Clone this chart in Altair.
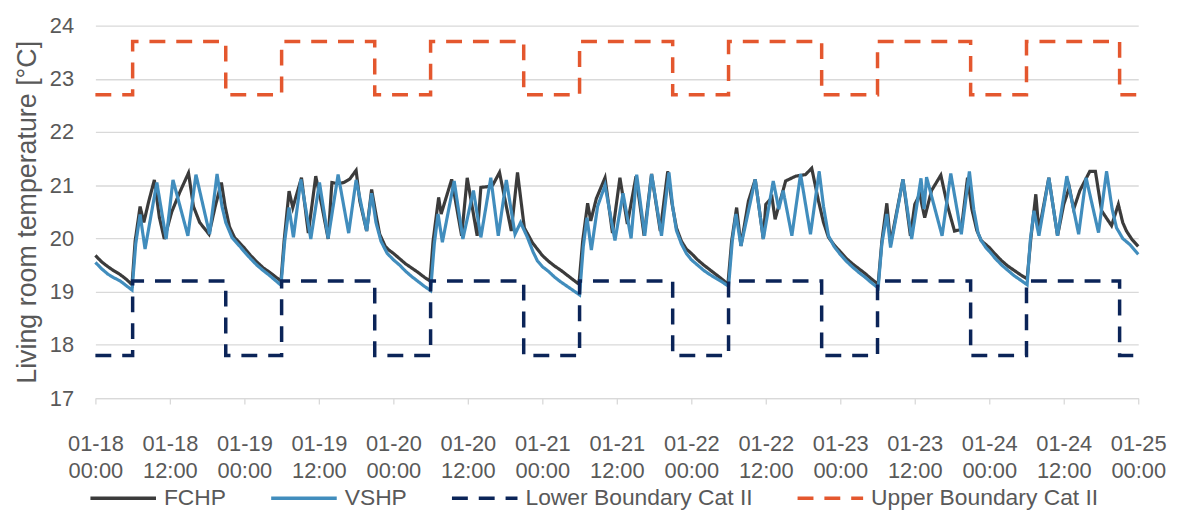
import json
import altair as alt
import pandas as pd

# ---------------- data (hours since 01-18 00:00) ----------------
FCHP_HOURS = [0, 1, 2, 3, 4, 5, 5.9, 6.4, 7.2, 7.8, 8.6, 9.5, 10.3, 11.1, 12.3, 13.6, 15.0, 15.8, 16.8, 18.3, 19.3, 20.3, 20.9, 21.6, 22.4, 23.2, 24.0,
              25, 26, 27, 28, 29, 29.9, 30.4, 31.2, 31.8, 33.2, 34.3, 35.5, 36.5, 37.5, 38.1, 39.0, 40.0, 41.0, 42.0, 42.6, 43.7, 44.5, 45.2, 45.8, 46.7, 47.3, 48.0,
              49, 50, 51, 52, 53, 53.9, 54.4, 55.3, 55.7, 57.4, 59.0, 59.9, 61.5, 62.1, 63.0, 64.0, 65.1, 67.0, 68.0, 69.1, 70.4, 71.2, 72.0,
              73, 74, 75, 76, 77, 77.9, 78.5, 79.3, 79.8, 80.7, 82.1, 83.3, 84.5, 85.7, 87.1, 88.4, 89.6, 91.0, 92.2, 92.9, 93.6, 94.4, 95.2, 96.0,
              97, 98, 99, 100, 101, 101.9, 102.5, 103.3, 104.0, 105.2, 106.3, 107.6, 108.0, 109.0, 109.5, 111.2, 112.8, 114.4, 115.4, 116.5, 117.3, 118.1, 119.0, 120.0,
              121, 122, 123, 124, 125, 126.1, 126.7, 127.5, 128.1, 130.1, 131.3, 132.0, 132.8, 133.6, 134.7, 136.2, 137.3, 138.4, 139.5, 140.5, 141.2, 142.0, 142.7, 143.5, 144.0,
              145, 146, 147, 148, 149, 150.1, 150.7, 151.5, 152.0, 153.6, 155.0, 156.0, 156.9, 157.6, 158.6, 160.2, 161.1, 162.1, 163.7, 164.8, 165.5, 166.1, 167.0, 168.0]
FCHP_TEMPS = [19.68, 19.56, 19.47, 19.39, 19.32, 19.23, 19.13, 19.95, 20.6, 20.3, 20.7, 21.1, 20.4, 19.99, 20.5, 20.87, 21.23, 20.6, 20.3, 20.08, 20.6, 21.05, 20.6, 20.22, 20.02, 19.92, 19.82,
              19.68, 19.56, 19.45, 19.37, 19.28, 19.2, 19.95, 20.89, 20.58, 21.14, 20.1, 21.17, 20.6, 19.99, 21.05, 21.03, 21.05, 21.12, 21.28, 20.7, 20.14, 20.92, 20.45, 20.08, 19.85, 19.78, 19.72,
              19.62, 19.52, 19.44, 19.36, 19.27, 19.2, 19.95, 20.77, 20.46, 21.11, 20.05, 21.14, 20.05, 20.96, 20.97, 21.0, 21.24, 20.14, 21.24, 20.2, 19.92, 19.8, 19.68,
              19.57, 19.48, 19.4, 19.31, 19.22, 19.14, 19.95, 20.66, 20.33, 20.75, 21.14, 20.1, 21.14, 20.27, 21.17, 20.05, 21.21, 20.14, 21.26, 20.65, 20.2, 19.95, 19.8, 19.72,
              19.6, 19.5, 19.41, 19.32, 19.23, 19.14, 19.95, 20.58, 19.86, 20.7, 21.11, 19.99, 20.64, 20.77, 20.36, 21.08, 21.17, 21.2, 21.32, 20.7, 20.3, 20.02, 19.88, 19.75,
              19.62, 19.52, 19.43, 19.34, 19.24, 19.14, 19.95, 20.66, 19.9, 21.11, 20.05, 20.64, 20.83, 20.39, 20.9, 21.19, 20.6, 20.14, 20.17, 21.14, 20.55, 20.15, 19.96, 19.88, 19.83,
              19.7, 19.58, 19.48, 19.4, 19.32, 19.24, 20.0, 20.83, 20.14, 21.14, 20.05, 20.64, 20.96, 20.55, 20.9, 21.26, 21.26, 20.52, 20.24, 20.64, 20.3, 20.14, 19.98, 19.85]

VSHP_HOURS = [0, 1, 2, 3, 4, 5, 5.9, 6.5, 7.2, 8.0, 9.9, 11.4, 12.5, 14.9, 16.2, 18.4, 19.6, 20.4, 21.0, 22.0, 23.2, 24.0,
              25, 26, 27, 28, 29, 29.9, 30.5, 31.2, 31.9, 33.1, 34.7, 36.1, 37.5, 39.1, 40.8, 42.0, 43.7, 44.5, 45.2, 46.0, 47.0, 48.0,
              49, 50, 51, 52, 53, 54.0, 54.6, 55.2, 55.9, 57.8, 59.2, 60.9, 62.1, 63.7, 64.9, 66.2, 67.6, 68.5, 69.6, 70.5, 71.2, 72.0,
              73, 74, 75, 76, 77, 78.0, 78.6, 79.2, 79.9, 80.9, 82.1, 83.7, 85.0, 86.3, 87.2, 88.5, 89.6, 91.2, 92.4, 93.0, 93.6, 94.4, 95.2, 96.0,
              97, 98, 99, 100, 101, 102.0, 102.6, 103.2, 104.0, 106.3, 107.6, 109.2, 110.1, 110.8, 112.2, 113.6, 115.2, 116.6, 117.3, 118.1, 119.0, 120.0,
              121, 122, 123, 124, 125, 126.1, 126.7, 127.5, 128.1, 130.1, 131.5, 133.0, 133.5, 133.9, 136.4, 137.8, 139.5, 140.8, 141.5, 142.2, 142.7, 143.5, 144.0,
              145, 146, 147, 148, 149, 150.1, 150.6, 151.2, 152.0, 153.6, 155.0, 156.5, 158.4, 159.6, 161.6, 162.9, 163.8, 164.5, 165.5, 166.7, 168.0]
VSHP_TEMPS = [19.55, 19.43, 19.33, 19.26, 19.2, 19.11, 19.03, 19.9, 20.45, 19.8, 21.05, 19.99, 21.1, 20.05, 21.2, 20.08, 21.21, 20.6, 20.3, 20.02, 19.86, 19.75,
              19.62, 19.5, 19.4, 19.31, 19.21, 19.12, 19.95, 20.58, 20.02, 21.11, 19.99, 21.05, 20.0, 21.2, 20.1, 21.1, 20.14, 20.85, 20.3, 19.95, 19.72, 19.6,
              19.5, 19.38, 19.28, 19.19, 19.1, 19.02, 19.9, 20.46, 19.93, 21.08, 19.99, 20.9, 20.02, 21.14, 20.05, 21.1, 20.08, 20.3, 20.02, 19.75, 19.58, 19.47,
              19.38, 19.27, 19.18, 19.1, 19.02, 18.94, 19.85, 20.39, 19.78, 20.6, 21.0, 19.96, 20.85, 20.0, 21.2, 20.05, 21.21, 20.05, 21.24, 20.6, 20.15, 19.9, 19.72, 19.6,
              19.5, 19.4, 19.32, 19.25, 19.18, 19.1, 19.95, 20.46, 19.86, 21.11, 19.99, 21.08, 20.55, 20.9, 20.05, 21.21, 20.08, 21.26, 20.6, 20.05, 19.85, 19.7,
              19.57, 19.46, 19.36, 19.27, 19.17, 19.07, 19.9, 20.46, 19.83, 21.11, 19.99, 21.13, 20.55, 21.15, 20.05, 21.22, 20.08, 21.26, 20.55, 20.1, 19.96, 19.82, 19.76,
              19.62, 19.5, 19.4, 19.3, 19.22, 19.13, 19.95, 20.52, 20.05, 21.14, 20.05, 21.17, 20.08, 21.14, 20.11, 21.26, 20.55, 20.2, 20.0, 19.88, 19.7]

BOUND_HOURS = [0, 6, 21, 30, 45, 54, 69, 78, 93, 102, 117, 126, 141, 150, 165, 168]
LOWER_BOUND = [17.8, 19.2, 17.8, 19.2, 17.8, 19.2, 17.8, 19.2, 17.8, 19.2, 17.8, 19.2, 17.8, 19.2, 17.8, 17.8]
UPPER_BOUND = [22.7, 23.7, 22.7, 23.7, 22.7, 23.7, 22.7, 23.7, 22.7, 23.7, 22.7, 23.7, 22.7, 23.7, 22.7, 22.7]

SERIES = ["FCHP", "VSHP", "Lower Boundary Cat II", "Upper Boundary Cat II"]
COLORS = ["#3b3b3b", "#418dbd", "#0b2458", "#e4572e"]
DASHES = [[1, 0], [1, 0], [16, 11], [16, 11]]

TICK_HOURS = list(range(0, 169, 12))
TICK_DATES = ["01-18", "01-18", "01-19", "01-19", "01-20", "01-20", "01-21", "01-21",
              "01-22", "01-22", "01-23", "01-23", "01-24", "01-24", "01-25"]
TICK_TIMES = ["00:00", "12:00"] * 7 + ["00:00"]

Y_TICKS = [17, 18, 19, 20, 21, 22, 23, 24]

# ---------------- tables ----------------
temp_df = pd.concat([
    pd.DataFrame({"hour": FCHP_HOURS, "value": FCHP_TEMPS, "series": "FCHP"}),
    pd.DataFrame({"hour": VSHP_HOURS, "value": VSHP_TEMPS, "series": "VSHP"}),
])
bound_df = pd.concat([
    pd.DataFrame({"hour": BOUND_HOURS, "value": LOWER_BOUND, "series": "Lower Boundary Cat II"}),
    pd.DataFrame({"hour": BOUND_HOURS, "value": UPPER_BOUND, "series": "Upper Boundary Cat II"}),
])

label_expr = (
    f"[{json.dumps(TICK_DATES)}[round(datum.value/12)], "
    f"{json.dumps(TICK_TIMES)}[round(datum.value/12)]]"
)

GRAY = "#595959"
GRID = "#d9d9d9"

x_enc = alt.X(
    "hour:Q",
    scale=alt.Scale(domain=[0, 168], nice=False, zero=False),
    axis=alt.Axis(
        values=TICK_HOURS, labelExpr=label_expr, title=None, grid=False,
        domainColor=GRID, domainWidth=1.3, tickColor=GRID, tickSize=6, tickWidth=1.3,
        labelFontSize=22, labelColor=GRAY, labelLineHeight=27, labelPadding=30,
        labelBaseline="top", labelFlush=False, labelOverlap=False,
    ),
)
y_enc = alt.Y(
    "value:Q",
    scale=alt.Scale(domain=[17, 24], nice=False, zero=False),
    axis=alt.Axis(
        values=Y_TICKS, title="Living room temperature [°C]", grid=True,
        gridColor=GRID, gridWidth=1.3, domain=False, ticks=False,
        labelFontSize=22, labelColor=GRAY, labelPadding=22,
        titleFontSize=27, titleFontWeight="normal", titleColor=GRAY, titlePadding=8,
    ),
)
legend_cfg = dict(
    title=None, orient="none", direction="horizontal", legendX=-7, legendY=441,
    symbolType="stroke", symbolSize=4356, symbolStrokeWidth=3.5,
    labelFontSize=23, labelColor=GRAY, labelOffset=6, columnPadding=38,
    labelLimit=400,
)
color_enc = alt.Color(
    "series:N",
    scale=alt.Scale(domain=SERIES, range=COLORS),
    legend=alt.Legend(**legend_cfg),
)
dash_enc = alt.StrokeDash(
    "series:N",
    scale=alt.Scale(domain=SERIES, range=DASHES),
    legend=alt.Legend(**legend_cfg),
)

temps = alt.Chart(temp_df).mark_line(strokeWidth=3.2).encode(
    x=x_enc, y=y_enc, color=color_enc, strokeDash=dash_enc
)
bounds = alt.Chart(bound_df).mark_line(strokeWidth=3.5, interpolate="step-after").encode(
    x=x_enc, y=y_enc, color=color_enc, strokeDash=dash_enc
)

chart = (
    alt.layer(temps, bounds)
    .properties(width=1050, height=375, padding={"left": 5, "top": 5, "right": 5, "bottom": 0})
    .configure(font="Liberation Sans", background="white")
    .configure_view(stroke=None)
)

chart.save("out.html", embed_options={"renderer": "svg", "actions": False})
